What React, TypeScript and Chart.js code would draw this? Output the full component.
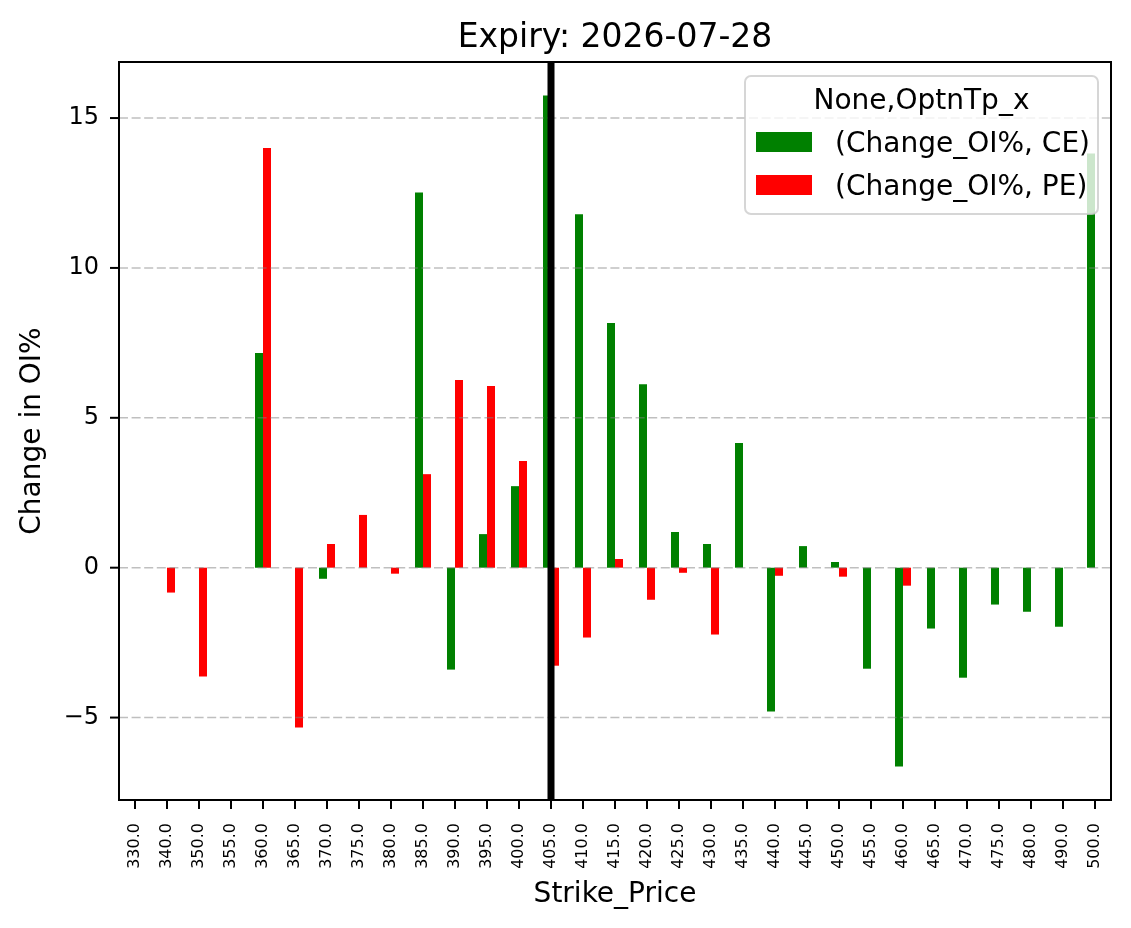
import React, { useEffect, useRef } from 'react';
import { Chart, registerables } from 'chart.js';

Chart.register(...registerables);

// ---------------- data ----------------
const STRIKES = [
  '330.0', '340.0', '350.0', '355.0', '360.0', '365.0', '370.0', '375.0', '380.0', '385.0',
  '390.0', '395.0', '400.0', '405.0', '410.0', '415.0', '420.0', '425.0', '430.0', '435.0',
  '440.0', '445.0', '450.0', '455.0', '460.0', '465.0', '470.0', '475.0', '480.0', '490.0', '500.0',
];

const CE_CHANGE: (number | null)[] = [
  null, null, null, null, 7.16, null, -0.37, null, null, 12.52,
  -3.40, 1.12, 2.72, 15.75, 11.79, 8.16, 6.12, 1.19, 0.79, 4.16,
  -4.80, 0.72, 0.19, -3.37, -6.63, -2.03, -3.67, -1.23, -1.47, -1.97, 13.82,
];

const PE_CHANGE: (number | null)[] = [
  null, -0.83, -3.63, null, 14.0, -5.33, 0.79, 1.76, -0.2, 3.12,
  6.26, 6.06, 3.56, -3.27, -2.33, 0.29, -1.07, -0.17, -2.23, null,
  -0.27, null, -0.3, null, -0.6, null, null, null, null, null, null,
];

const Y_TICKS = [-5, 0, 5, 10, 15];
const Y_MIN = -7.75;
const Y_MAX = 16.87;
const SPOT_STRIKE = '405.0';

const TITLE = 'Expiry: 2026-07-28';
const X_TITLE = 'Strike_Price';
const Y_TITLE = 'Change in OI%';
const LEGEND_TITLE = 'None,OptnTp_x';
const SERIES_NAMES = ['(Change_OI%, CE)', '(Change_OI%, PE)'];
const SERIES_COLORS = ['#008000', '#ff0000'];

const FONT = "'DejaVu Sans', sans-serif";

function roundRect(ctx: CanvasRenderingContext2D, x: number, y: number, w: number, h: number, r: number) {
  ctx.beginPath();
  ctx.moveTo(x + r, y);
  ctx.lineTo(x + w - r, y);
  ctx.arcTo(x + w, y, x + w, y + r, r);
  ctx.lineTo(x + w, y + h - r);
  ctx.arcTo(x + w, y + h, x + w - r, y + h, r);
  ctx.lineTo(x + r, y + h);
  ctx.arcTo(x, y + h, x, y + h - r, r);
  ctx.lineTo(x, y + r);
  ctx.arcTo(x, y, x + r, y, r);
  ctx.closePath();
}

const overlayPlugin = {
  id: 'mplOverlay',
  afterDatasetsDraw(chart: any) {
    const { ctx, chartArea: a, scales } = chart;
    const xs = scales.x;
    const ys = scales.y;
    ctx.save();

    // dashed horizontal grid (drawn above bars like matplotlib)
    ctx.strokeStyle = 'rgba(128,128,128,0.5)';
    ctx.lineWidth = 1.6;
    ctx.setLineDash([9, 3.6]);
    Y_TICKS.forEach((v) => {
      const py = ys.getPixelForValue(v);
      ctx.beginPath();
      ctx.moveTo(a.left, py);
      ctx.lineTo(a.right, py);
      ctx.stroke();
    });
    ctx.setLineDash([]);

    // spot strike vertical line
    const si = STRIKES.indexOf(SPOT_STRIKE);
    const sx = xs.getPixelForValue(si);
    ctx.fillStyle = '#000';
    ctx.fillRect(sx - 3.5, a.top, 7, a.bottom - a.top);

    // frame
    ctx.strokeStyle = '#000';
    ctx.lineWidth = 2;
    ctx.strokeRect(a.left, a.top, a.right - a.left, a.bottom - a.top);

    // tick marks
    ctx.lineWidth = 2;
    STRIKES.forEach((_, i) => {
      const px = xs.getPixelForValue(i);
      ctx.beginPath();
      ctx.moveTo(px, a.bottom);
      ctx.lineTo(px, a.bottom + 9);
      ctx.stroke();
    });
    Y_TICKS.forEach((v) => {
      const py = ys.getPixelForValue(v);
      ctx.beginPath();
      ctx.moveTo(a.left - 9, py);
      ctx.lineTo(a.left, py);
      ctx.stroke();
    });

    // titles
    ctx.fillStyle = '#000';
    ctx.textAlign = 'center';
    ctx.textBaseline = 'alphabetic';
    ctx.font = `33px ${FONT}`;
    ctx.fillText(TITLE, (a.left + a.right) / 2, 47);
    ctx.font = `28px ${FONT}`;
    ctx.fillText(X_TITLE, (a.left + a.right) / 2, 902);
    ctx.save();
    ctx.translate(40, (a.top + a.bottom) / 2);
    ctx.rotate(-Math.PI / 2);
    ctx.fillText(Y_TITLE, 0, 0);
    ctx.restore();

    // legend
    const lx = 745, ly = 76, lw = 353, lh = 138;
    roundRect(ctx, lx, ly, lw, lh, 6);
    ctx.fillStyle = 'rgba(255,255,255,0.8)';
    ctx.fill();
    ctx.strokeStyle = 'rgba(204,204,204,0.8)';
    ctx.lineWidth = 2;
    ctx.stroke();
    ctx.fillStyle = '#000';
    ctx.font = `28px ${FONT}`;
    ctx.textAlign = 'center';
    ctx.fillText(LEGEND_TITLE, lx + lw / 2, 109);
    ctx.textAlign = 'left';
    SERIES_NAMES.forEach((name, i) => {
      const rowTop = 132 + i * 43;
      ctx.fillStyle = SERIES_COLORS[i];
      ctx.fillRect(756, rowTop, 56, 20);
      ctx.fillStyle = '#000';
      ctx.fillText(name, 835, rowTop + 20);
    });

    ctx.restore();
  },
};

export default function App() {
  const canvasRef = useRef<HTMLCanvasElement>(null);

  useEffect(() => {
    const canvas = canvasRef.current;
    if (!canvas) return;
    const chart = new Chart(canvas, {
      type: 'bar',
      data: {
        labels: STRIKES,
        datasets: [
          {
            label: SERIES_NAMES[0],
            data: CE_CHANGE,
            backgroundColor: SERIES_COLORS[0],
            borderWidth: 0,
            categoryPercentage: 0.5,
            barPercentage: 1.0,
          },
          {
            label: SERIES_NAMES[1],
            data: PE_CHANGE,
            backgroundColor: SERIES_COLORS[1],
            borderWidth: 0,
            categoryPercentage: 0.5,
            barPercentage: 1.0,
          },
        ],
      },
      options: {
        responsive: false,
        maintainAspectRatio: false,
        devicePixelRatio: 1,
        animation: false,
        layout: { padding: { left: 0, right: 20, top: 62, bottom: 0 } },
        plugins: {
          legend: { display: false },
          title: { display: false },
          tooltip: { enabled: false },
        },
        scales: {
          x: {
            type: 'category',
            offset: true,
            grid: { display: false, drawTicks: false },
            border: { display: false },
            ticks: {
              autoSkip: false,
              minRotation: 90,
              maxRotation: 90,
              padding: 23,
              color: '#000',
              font: { family: FONT, size: 16 },
            },
            afterFit: (s: any) => {
              s.height = 128;
              s.paddingLeft = 0;
              s.paddingRight = 0;
            },
          },
          y: {
            type: 'linear',
            min: Y_MIN,
            max: Y_MAX,
            grid: { display: false, drawTicks: false },
            border: { display: false },
            ticks: {
              padding: 20,
              color: '#000',
              font: { family: FONT, size: 24 },
              callback: (v: any) => (Number(v) < 0 ? '\u2212' + Math.abs(Number(v)) : String(v)),
            },
            afterBuildTicks: (s: any) => {
              s.ticks = Y_TICKS.map((v) => ({ value: v }));
            },
            afterFit: (s: any) => {
              s.width = 119;
              s.paddingTop = 0;
              s.paddingBottom = 0;
            },
          },
        },
      },
      plugins: [overlayPlugin],
    });
    return () => chart.destroy();
  }, []);

  return (
    <div style={{ position: 'absolute', left: 0, top: 0, width: 1131, height: 928, background: '#fff' }}>
      <canvas ref={canvasRef} width={1131} height={928} style={{ display: 'block' }} />
    </div>
  );
}
